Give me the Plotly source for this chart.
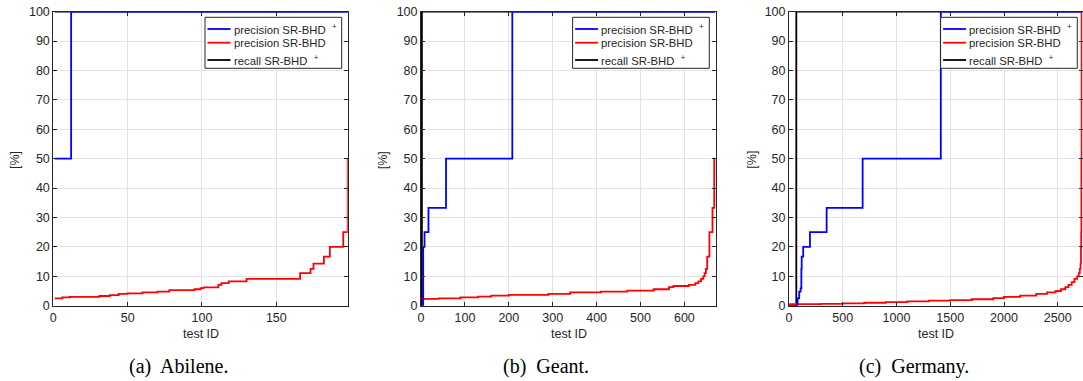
import plotly.graph_objects as go

# ---------------- data (step start x, value in %) ----------------
# (a) Abilene
a_end = 198
a_blue_x = [1, 12]
a_blue_y = [50, 100]
a_red_x = [1, 6, 11, 31, 38, 44, 50, 60, 70, 78, 95, 99, 101, 111, 113, 118, 130, 166, 173, 175, 182, 186, 195, 198]
a_red_y = [2.5, 2.8, 3.0, 3.3, 3.6, 4.0, 4.2, 4.5, 4.8, 5.3, 5.6, 6.0, 6.25, 7.1, 7.7, 8.3, 9.1, 11.1, 12.5, 14.3, 16.7, 20, 25, 50]
a_black_x = [1]
a_black_y = [100]

# (b) Geant
b_end = 670
b_blue_x = [1, 5, 8, 17, 57, 208]
b_blue_y = [0, 20, 25, 33.3, 50, 100]
b_red_x = [1, 40, 90, 130, 160, 200, 290, 340, 410, 470, 530, 565, 575, 610, 625, 632, 638, 643, 646, 649, 652, 657, 664, 668]
b_red_y = [2.3, 2.5, 2.8, 3.1, 3.4, 3.7, 4.0, 4.5, 4.8, 5.1, 5.6, 6.3, 6.7, 7.1, 7.7, 8.3, 9.1, 10, 11.1, 12.5, 16.7, 25, 33.3, 50]
b_black_x = [1, 2]
b_black_y = [0, 100]

# (c) Germany
c_end = 2722
c_blue_x = [66, 80, 95, 108, 115, 118, 132, 195, 350, 685, 1412]
c_blue_y = [0, 2.5, 4.8, 5.9, 12.5, 16.7, 20, 25, 33.3, 50, 100]
c_red_x = [1, 300, 500, 700, 900, 1100, 1300, 1500, 1700, 1900, 2000, 2150, 2300, 2400, 2480, 2530, 2570, 2600,
           2630, 2655, 2680, 2695, 2705, 2712, 2716, 2718, 2720, 2722]
c_red_y = [0.55, 0.6, 0.8, 1.0, 1.2, 1.5, 1.7, 1.9, 2.2, 2.6, 3.0, 3.4, 4.0, 4.5, 5.0, 5.6, 6.3, 7.1,
           8.0, 9.1, 10.0, 11.1, 12.5, 14.3, 20, 25, 50, 100]
c_black_x = [1, 68]
c_black_y = [0, 100]

x_ranges = [[0, 198], [0, 672], [0, 2730]]
x_ticks = [[0, 50, 100, 150], [0, 100, 200, 300, 400, 500, 600], [0, 500, 1000, 1500, 2000, 2500]]
y_ticks = [0, 10, 20, 30, 40, 50, 60, 70, 80, 90, 100]
captions = ["(a)\u00a0 Abilene.", "(b)\u00a0 Geant.", "(c)\u00a0 Germany."]
names = ["precision SR-BHD\u00a0\u00a0<sup>+</sup>", "precision SR-BHD", "recall SR-BHD\u00a0\u00a0<sup>+</sup>"]
colors = ["#0000ff", "#ff0000", "#000000"]

panels = [
    (a_end, a_blue_x, a_blue_y, a_red_x, a_red_y, a_black_x, a_black_y),
    (b_end, b_blue_x, b_blue_y, b_red_x, b_red_y, b_black_x, b_black_y),
    (c_end, c_blue_x, c_blue_y, c_red_x, c_red_y, c_black_x, c_black_y),
]

# ---------------- layout geometry (pixels) ----------------
W, H = 1083, 381
px_left = [53.3, 421.0, 789.0]
px_right = [347.7, 716.0, 1082.5]
px_top, px_bot = 11.7, 305.7
legend_right = [341.7, 709.3, 1077.3]
legend_w = 136.7
legend_top, legend_bot = 17.3, 68.3
legend_rows = [29.0, 42.7, 60.0]
caption_cx = [178, 546, 914]
ylabel_cx = [15, 383.3, 751.7]

AX = "#262626"
GRID = "#e3e3e3"
FONT = "Liberation Sans, Arial, sans-serif"


def ext(xs, ys, end):
    return list(xs) + [end], list(ys) + [ys[-1]]


def px(x):
    return x / W


def py(y):
    return 1 - y / H


fig = go.Figure()
for i, (end, bx, by, rx, ry, kx, ky) in enumerate(panels):
    xa = "x" if i == 0 else f"x{i+1}"
    ya = "y" if i == 0 else f"y{i+1}"
    kx2, ky2 = ext(kx, ky, end)
    rx2, ry2 = ext(rx, ry, end)
    bx2, by2 = ext(bx, by, end)
    fig.add_trace(go.Scatter(x=kx2, y=ky2, mode="lines", line=dict(color=colors[2], width=1.8, shape="hv"),
                             name="recall SR-BHD+", showlegend=False, xaxis=xa, yaxis=ya))
    fig.add_trace(go.Scatter(x=rx2, y=ry2, mode="lines", line=dict(color=colors[1], width=1.8, shape="hv"),
                             name="precision SR-BHD", showlegend=False, xaxis=xa, yaxis=ya))
    fig.add_trace(go.Scatter(x=bx2, y=by2, mode="lines", line=dict(color=colors[0], width=1.8, shape="hv"),
                             name="precision SR-BHD+", showlegend=False, xaxis=xa, yaxis=ya))

layout = dict(
    width=W, height=H,
    margin=dict(l=0, r=0, t=0, b=0, autoexpand=False),
    paper_bgcolor="white", plot_bgcolor="white",
    font=dict(family=FONT, size=12.5, color=AX),
    showlegend=False,
)

annotations = []
shapes = []
for i in range(3):
    sfx = "" if i == 0 else str(i + 1)
    dom_x = [px(px_left[i]), px(px_right[i])]
    dom_y = [py(px_bot), py(px_top)]
    common = dict(showline=True, linecolor=AX, linewidth=1, mirror="ticks",
                  ticks="inside", ticklen=4, tickcolor=AX,
                  showgrid=True, gridcolor=GRID, gridwidth=1, zeroline=False,
                  tickfont=dict(family=FONT, size=12.5, color=AX), automargin=False)
    layout["xaxis" + sfx] = dict(domain=dom_x, anchor="y" + sfx, range=x_ranges[i], tickvals=x_ticks[i], **common)
    layout["yaxis" + sfx] = dict(domain=dom_y, anchor="x" + sfx, range=[0, 100], tickvals=y_ticks, **common)

    # legend box
    R = legend_right[i]
    L = R - legend_w
    shapes.append(dict(type="rect", xref="paper", yref="paper",
                       x0=px(L), x1=px(R), y0=py(legend_bot), y1=py(legend_top),
                       line=dict(color=AX, width=1), fillcolor="white", layer="above"))
    for k in range(3):
        yy = legend_rows[k]
        shapes.append(dict(type="line", xref="paper", yref="paper",
                           x0=px(L + 2.5), x1=px(L + 25.5), y0=py(yy), y1=py(yy),
                           line=dict(color=colors[k], width=1.8), layer="above"))
        annotations.append(dict(text=names[k], x=px(L + 26.5), y=py(yy), xanchor="left", yanchor="middle",
                                xref="paper", yref="paper", showarrow=False,
                                font=dict(family=FONT, size=11.3, color=AX)))

    annotations.append(dict(text="test ID", x=px((px_left[i] + px_right[i]) / 2), y=py(334),
                            xanchor="center", yanchor="middle",
                            xref="paper", yref="paper", showarrow=False,
                            font=dict(family=FONT, size=12.5, color=AX)))
    annotations.append(dict(text="[%]", x=px(ylabel_cx[i]), y=py(160), textangle=-90,
                            xanchor="center", yanchor="middle",
                            xref="paper", yref="paper", showarrow=False,
                            font=dict(family=FONT, size=12.5, color=AX)))
    annotations.append(dict(text=captions[i], x=px(caption_cx[i]), y=py(366),
                            xanchor="center", yanchor="middle",
                            xref="paper", yref="paper", showarrow=False,
                            font=dict(family="Liberation Serif, Times New Roman, serif", size=20, color="black")))

layout["annotations"] = annotations
layout["shapes"] = shapes
fig.update_layout(**layout)
fig.write_html("out.html", config={"displayModeBar": False},
               post_script="document.body.style.margin='0px';document.body.style.overflow='hidden';")
